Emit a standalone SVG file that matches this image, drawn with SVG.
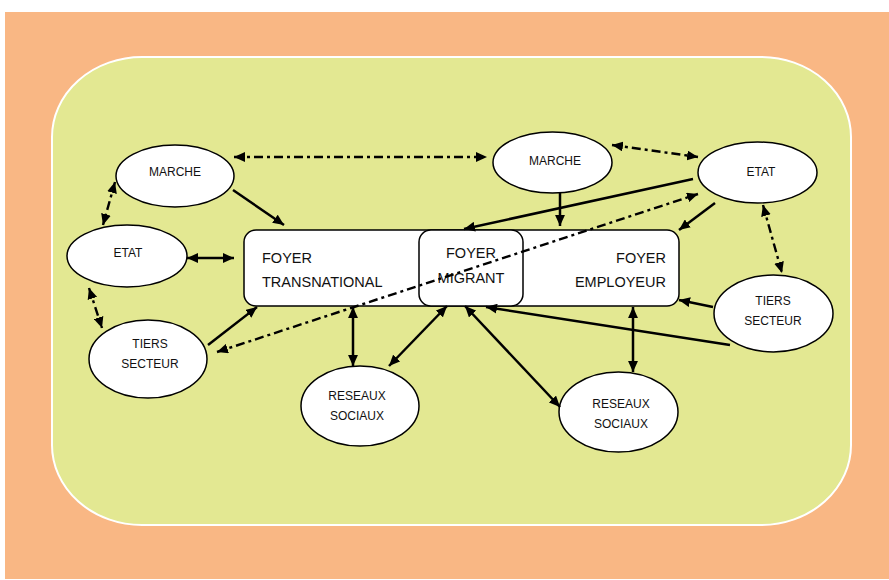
<svg xmlns="http://www.w3.org/2000/svg" width="889" height="580" viewBox="0 0 889 580">
<style>
.n{fill:#fff;stroke:#000;stroke-width:1.5}
.t{font-family:"Liberation Sans",Arial,sans-serif;font-size:12px;fill:#111;text-anchor:middle;dominant-baseline:central}
.b{font-family:"Liberation Sans",Arial,sans-serif;font-size:14.5px;fill:#111}
.s{fill:none;stroke:#000;stroke-width:2.5}
.d{fill:none;stroke:#000;stroke-width:2.4;stroke-dasharray:9 4 3 4}
.s,.d{marker-end:url(#ah)}
.two{marker-start:url(#ah)}
</style>
<defs>
<marker id="ah" viewBox="0 0 10 9" refX="10" refY="4.5" markerWidth="11" markerHeight="10" markerUnits="userSpaceOnUse" orient="auto-start-reverse">
<path d="M0,0 L10,4.5 L0,9 z" fill="#000"/>
</marker>
</defs>
<rect x="5" y="12" width="884" height="567" fill="#f9b784"/>
<rect x="52" y="57" width="799" height="468" rx="90" ry="80" fill="#e3e892" stroke="#fff" stroke-width="2"/>

<g id="foyers">
<rect id="foyer-big" class="n" x="244" y="230" width="435" height="76" rx="12"/>
<text class="b" x="262" y="263">FOYER</text>
<text class="b" x="262" y="287">TRANSNATIONAL</text>
<text class="b" x="666" y="263" text-anchor="end">FOYER</text>
<text class="b" x="666" y="287" text-anchor="end">EMPLOYEUR</text>
</g>
<g id="foyer-migrant">
<rect class="n" x="419" y="230" width="104" height="76" rx="12"/>
<text class="b" x="471" y="258" text-anchor="middle">FOYER</text>
<text class="b" x="471" y="283" text-anchor="middle">MIGRANT</text>
</g>

<g id="marche-left"><ellipse class="n" cx="175" cy="176" rx="59" ry="31"/><text class="t" x="175" y="172">MARCHE</text></g>
<g id="etat-left"><ellipse class="n" cx="127" cy="256" rx="60" ry="31"/><text class="t" x="128" y="253">ETAT</text></g>
<g id="tiers-left"><ellipse class="n" cx="148" cy="359" rx="59" ry="39"/><text class="t" x="150" y="344">TIERS</text><text class="t" x="150" y="364">SECTEUR</text></g>
<g id="marche-right"><ellipse class="n" cx="552.5" cy="162.5" rx="59.5" ry="30.5"/><text class="t" x="555" y="161">MARCHE</text></g>
<g id="etat-right"><ellipse class="n" cx="757.5" cy="172.5" rx="59.5" ry="30.5"/><text class="t" x="761" y="172">ETAT</text></g>
<g id="tiers-right"><ellipse class="n" cx="773.5" cy="313.5" rx="59.5" ry="38.5"/><text class="t" x="773" y="301">TIERS</text><text class="t" x="773" y="321">SECTEUR</text></g>
<g id="reseaux-left"><ellipse class="n" cx="360" cy="406" rx="59" ry="40"/><text class="t" x="357" y="396">RESEAUX</text><text class="t" x="357" y="416">SOCIAUX</text></g>
<g id="reseaux-right"><ellipse class="n" cx="618.5" cy="412" rx="59.5" ry="40"/><text class="t" x="621" y="404">RESEAUX</text><text class="t" x="621" y="424">SOCIAUX</text></g>

<g id="connectors">
<line class="d two" x1="234" y1="157" x2="487" y2="157"/>
<line class="d two" x1="612" y1="145" x2="698" y2="157"/>
<line class="d two" x1="115" y1="182" x2="103" y2="225"/>
<line class="d two" x1="89" y1="288" x2="102" y2="328"/>
<line class="d two" x1="217" y1="352" x2="698" y2="194"/>
<line class="d two" x1="763" y1="205" x2="782" y2="273"/>
<line class="s two" x1="187" y1="258" x2="234" y2="258"/>
<line class="s" x1="233" y1="190" x2="284" y2="225"/>
<line class="s" x1="208" y1="345" x2="257" y2="307"/>
<line class="s" x1="693" y1="179" x2="464" y2="229"/>
<line class="s" x1="560" y1="193" x2="560" y2="226"/>
<line class="s" x1="715" y1="203" x2="679" y2="230"/>
<line class="s" x1="713" y1="307" x2="679" y2="300"/>
<line class="s" x1="730" y1="345" x2="486" y2="307"/>
<line class="s two" x1="633" y1="307" x2="633" y2="372"/>
<line class="s two" x1="353" y1="307" x2="353" y2="366"/>
<line class="s two" x1="389" y1="366" x2="447" y2="306"/>
<line class="s two" x1="465" y1="306" x2="560" y2="407"/>
</g>
</svg>
